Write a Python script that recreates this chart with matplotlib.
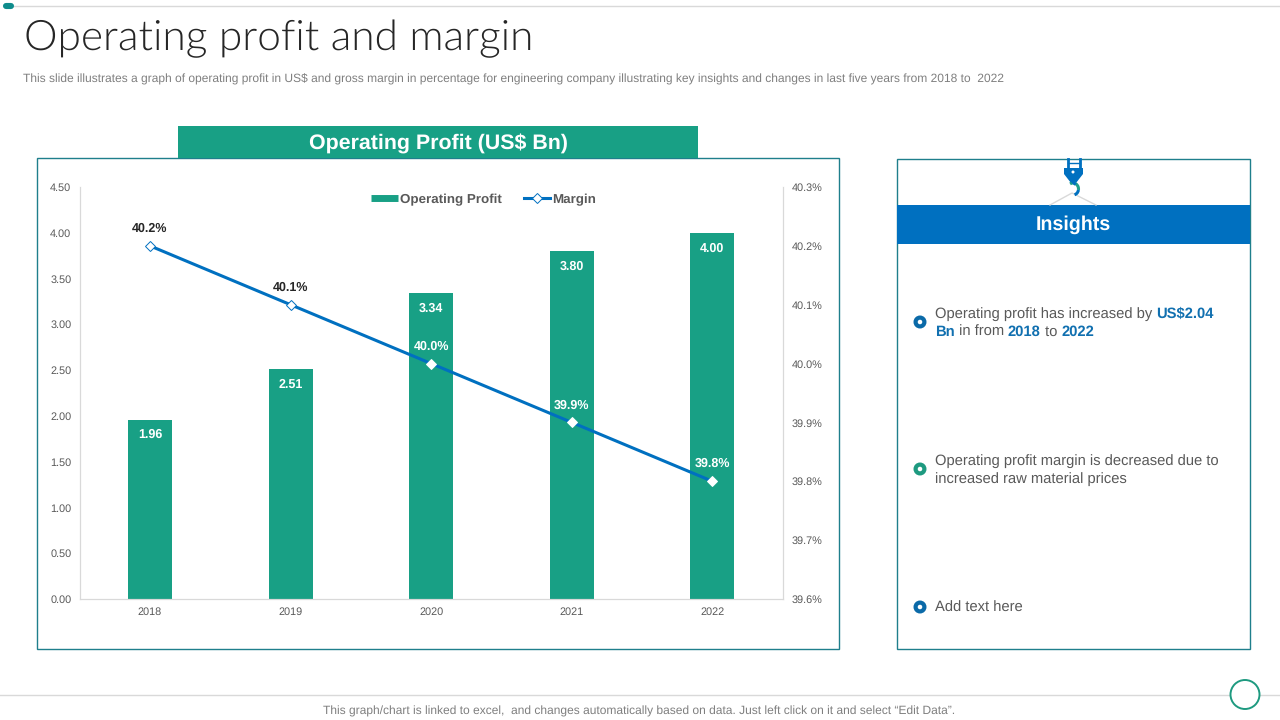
import matplotlib
matplotlib.use("Agg")
import matplotlib.pyplot as plt
from matplotlib.lines import Line2D
from matplotlib.patches import Rectangle, Circle, Polygon, Arc

plt.rcParams["text.hinting"] = "none"

years = ["2018", "2019", "2020", "2021", "2022"]
profit = [1.96, 2.51, 3.34, 3.80, 4.00]
margin = [40.2, 40.1, 40.0, 39.9, 39.8]
left_ticks = [0, 0.5, 1, 1.5, 2, 2.5, 3, 3.5, 4, 4.5]
right_ticks = [39.6, 39.7, 39.8, 39.9, 40.0, 40.1, 40.2, 40.3]
margin_label_colors = ["#262626", "#262626", "white", "white", "white"]

TEAL = "#18A085"
BLUE = "#0070C0"
FRAME = "#1F7F8C"
GREY = "#595959"
SANS = "Liberation Sans"

W, H = 1280, 720
fig = plt.figure(figsize=(12.8, 7.2), dpi=100, facecolor="white")
bg = fig.add_axes([0, 0, 1, 1], zorder=0)
bg.set_xlim(0, W); bg.set_ylim(H, 0); bg.axis("off")


def rect(x0, y0, x1, y1, **kw):
    bg.add_patch(Rectangle((x0, y0), x1 - x0, y1 - y0, **kw))


# page furniture
bg.plot([14, W], [5.5, 5.5], color="#D9D9D9", lw=1)
bg.plot([6, 11], [5.5, 5.5], color="#0E8C8C", lw=4.4, solid_capstyle="round", zorder=3)
bg.plot([0, W], [694.8, 694.8], color="#D9D9D9", lw=1)
bg.add_patch(Circle((1245, 694.5), 14.5, facecolor="white", edgecolor="#1E9A80", lw=1.4, zorder=3))

bg.text(24, 39, "Operating profit and margin", fontsize=30.5, family="Lato",
        fontweight=300, color="#262626", va="center", ha="left")
bg.text(23, 79, "This slide illustrates a graph of operating profit in US$ and gross margin in percentage "
        "for engineering company illustrating key insights and changes in last five years from 2018 to  2022",
        fontsize=8.62, family=SANS, color="#7F7F7F", va="center", ha="left")
bg.text(639.5, 711, "This graph/chart is linked to excel,  and changes automatically based on data. "
        "Just left click on it and select \u201cEdit Data\u201d.",
        fontsize=8.64, family=SANS, color="#7F7F7F", va="center", ha="center")

# left panel
rect(37, 158, 839, 649, facecolor="white", edgecolor=FRAME, lw=1)
rect(178, 126, 698, 158, facecolor=TEAL, edgecolor="none")
bg.text(438, 144, "Operating Profit (US$ Bn)", fontsize=15.4, family=SANS, fontweight="bold",
        color="white", va="center", ha="center")

# right panel
rect(897, 159, 1250, 649, facecolor="white", edgecolor=FRAME, lw=1)
rect(897, 205, 1250, 244, facecolor=BLUE, edgecolor="none", zorder=2)
bg.text(1073, 225, "Insights", fontsize=14.1, family=SANS, fontweight="bold",
        color="white", va="center", ha="center", zorder=3)

# crane hook
bg.plot([1050, 1072, 1096], [205, 193, 205], color="#D9D9D9", lw=1)
bg.plot([1068, 1068], [159, 170], color=BLUE, lw=2)
bg.plot([1080, 1080], [159, 170], color=BLUE, lw=2)
bg.plot([1068, 1080], [163, 163], color=BLUE, lw=1)
bg.add_patch(Polygon([(1064, 168), (1083, 168), (1083, 174), (1076, 183), (1071, 183), (1064, 174)],
                     facecolor=BLUE, edgecolor="none", zorder=3))
bg.add_patch(Circle((1073, 172), 1.5, color="white", lw=0, zorder=4))
bg.add_patch(Arc((1073, 189), 11, 12, theta1=-120, theta2=10, color="#1FA08A", lw=2.2, zorder=4))
bg.add_patch(Arc((1073, 189), 11, 12, theta1=10, theta2=75, color=BLUE, lw=2.2, zorder=4))
bg.plot([1073, 1074.5], [182, 183.5], color=BLUE, lw=2.2, zorder=4)

# bullets
for (cx, cy, col) in [(920, 322, "#0B6AA8"), (920, 469, "#1E9A80"), (920, 607, "#0B6AA8")]:
    bg.add_patch(Circle((cx, cy), 4.4, facecolor="white", edgecolor=col, lw=3, zorder=3))

NORMAL_C = "#595959"
BOLD_C = "#1170B0"
FS = 10.58


def run(x, y, parts):
    r = fig.canvas.get_renderer()
    for txt, bold in parts:
        t = bg.text(x, y, txt, fontsize=FS, family=SANS, va="center", ha="left",
                    fontweight="bold" if bold else "normal",
                    color=BOLD_C if bold else NORMAL_C)
        x += t.get_window_extent(r).width


run(935, 314, [("Operating profit has increased by ", False), ("US$2.04", True)])
run(935, 332, [("Bn", True), (" in from ", False), ("2018", True), (" to ", False), ("2022", True)])
run(935, 461, [("Operating profit margin is decreased due to", False)])
run(935, 479, [("increased raw material prices", False)])
run(935, 608, [("Add text here", False)])

# chart
ax = fig.add_axes([79.7 / W, 1 - 599 / H, (782 - 79) / W, (599 - 187) / H], zorder=2)
ax.patch.set_alpha(0)
x = list(range(len(years)))
bars = ax.bar(x, profit, width=0.313, color=TEAL, zorder=2)
ax.set_xlim(-0.5, 4.5)
ax.set_ylim(0, 4.5)
ax.set_xticks(x, years)
ax.set_yticks(left_ticks, [f"{v:.2f}" for v in left_ticks])
ax.tick_params(length=0, labelsize=7.8, labelcolor=GREY, labelfontfamily=SANS)
ax.tick_params(axis="y", pad=6)
ax.tick_params(axis="x", pad=6)

ax2 = ax.twinx()
ax2.set_ylim(39.6, 40.3)
ax2.set_yticks(right_ticks, [f"{v:.1f}%" for v in right_ticks])
ax2.tick_params(length=0, labelsize=7.8, labelcolor=GREY, labelfontfamily=SANS, pad=6.5)
ax2.plot(x, margin, color=BLUE, lw=2.2, zorder=3)
# open diamonds off the bars, solid white ones on them
ax2.plot(x[:2], margin[:2], ls="none", marker="D", ms=5.2, mfc="white", mec=BLUE, mew=0.7, zorder=4)
ax2.plot(x[2:], margin[2:], ls="none", marker="D", ms=5.2, mfc="white", mec="white", mew=0.7, zorder=4)
for a in (ax, ax2):
    for s in a.spines.values():
        s.set_color("#D9D9D9"); s.set_linewidth(0.8)
    a.spines["top"].set_visible(False)

for xi, v in zip(x, profit):
    ax.annotate(f"{v:.2f}", (xi, v), xytext=(0, -11), textcoords="offset points",
                ha="center", va="center", fontsize=9, fontweight="bold", family=SANS,
                color="white")
for xi, v, c in zip(x, margin, margin_label_colors):
    ax2.annotate(f"{v:.1f}%", (xi, v), xytext=(0, 12.5), textcoords="offset points",
                 ha="center", va="center", fontsize=9, fontweight="bold", family=SANS,
                 color=c, zorder=5)

handles = [Line2D([], [], color=TEAL, lw=5, solid_capstyle="butt"),
           Line2D([], [], color=BLUE, lw=2.2, marker="D", ms=4.6, mfc="white", mec=BLUE, mew=0.7)]
leg = ax2.legend(handles, ["Operating Profit", "Margin"], ncol=2, frameon=False,
                 loc="center", bbox_to_anchor=((483 - 79) / 703, (599 - 199.5) / 412),
                 prop={"family": SANS, "size": 9.6, "weight": "bold"}, labelcolor=GREY,
                 handlelength=2.0, handletextpad=0.15, columnspacing=1.65, borderpad=0)

fig.savefig("out.png", dpi=100)
